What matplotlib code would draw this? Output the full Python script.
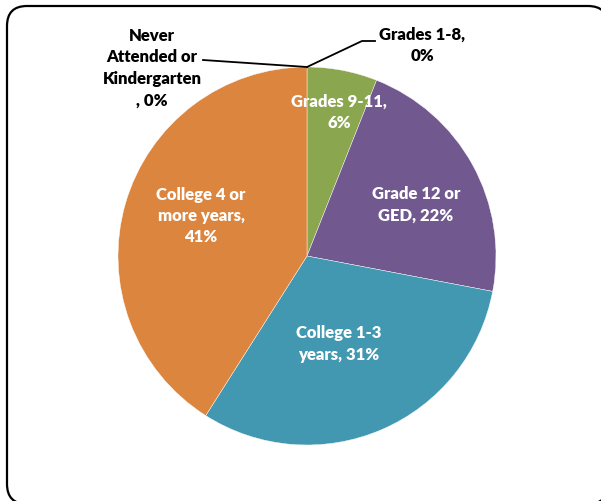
import matplotlib
matplotlib.use("Agg")
import matplotlib.pyplot as plt
from matplotlib.patches import FancyBboxPatch

# --- data
categories = ["Never Attended or Kindergarten", "Grades 1-8", "Grades 9-11",
              "Grade 12 or GED", "College 1-3 years", "College 4 or more years"]
shares = [0, 0, 6, 22, 31, 41]
label_text = ["Never\nAttended or\nKindergarten\n, 0%", "Grades 1-8,\n0%",
              "Grades 9-11,\n6%", "Grade 12 or\nGED, 22%",
              "College 1-3\nyears, 31%", "College 4 or\nmore years,\n41%"]

COLORS = ["#4F81BD", "#C0504D", "#8AA64F", "#71588F", "#4298B0", "#DC853E"]
INK = "#000000"
W, H = 601, 502

plt.rcParams["font.family"] = ["Lato", "DejaVu Sans"]

fig = plt.figure(figsize=(W / 100, H / 100), dpi=100)
ax = fig.add_axes([0, 0, 1, 1])

# rounded chart border
ax.add_patch(FancyBboxPatch((7, H - 505), 601, 498,
                            boxstyle="round,pad=0,rounding_size=20",
                            facecolor="white", edgecolor=INK, linewidth=1.6,
                            zorder=0, clip_on=False))

cx, cy, r = 307, H - 257, 189
ax.pie(shares, colors=COLORS, startangle=90, counterclock=False,
       center=(cx, cy), radius=r, frame=True,
       wedgeprops=dict(edgecolor="white", linewidth=0.3))
ax.set_xlim(0, W)
ax.set_ylim(0, H)
ax.set_aspect("equal")
ax.axis("off")

fs = 12
LS = 1.42
# inside labels (white)
inside = {2: (339, 112), 3: (416, 205), 4: (339, 344), 5: (201, 216)}
for i, (x, y) in inside.items():
    ax.text(x, H - y, label_text[i], ha="center", va="center", color="white",
            fontsize=fs, fontweight="heavy", linespacing=LS)

# outside labels with leader lines
ax.text(152, H - 68, label_text[0], ha="center", va="center", color=INK,
        fontsize=fs, fontweight="heavy", linespacing=LS)
ax.text(422, H - 45, label_text[1], ha="center", va="center", color=INK,
        fontsize=fs, fontweight="heavy", linespacing=LS)
ax.plot([203, 307], [H - 61, H - 68], color=INK, linewidth=1.3)
ax.plot([307, 362, 375], [H - 68, H - 42, H - 42], color=INK, linewidth=1.3)

fig.savefig("out.png", dpi=100, facecolor="white")
